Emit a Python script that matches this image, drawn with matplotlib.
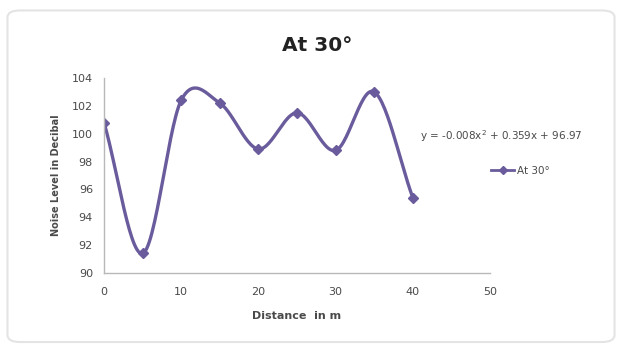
import numpy as np
import matplotlib
matplotlib.use("Agg")
import matplotlib.pyplot as plt
from matplotlib.patches import FancyBboxPatch
from matplotlib.lines import Line2D

# data
distance = [0, 5, 10, 15, 20, 25, 30, 35, 40]
noise_db = [100.8, 91.4, 102.4, 102.2, 98.9, 101.5, 98.8, 103.0, 95.4]
x_ticks = [0, 10, 20, 30, 40, 50]
y_ticks = [90, 92, 94, 96, 98, 100, 102, 104]
series_name = "At 30°"
trend_text = "y = -0.008x$^2$ + 0.359x + 96.97"

LINE = "#6a5c9c"
TEXT = "#4a4a4a"


def smooth_curve(xs, ys, steps=30):
    # Catmull-Rom through the points, similar to Excel's smoothed line
    xs = np.asarray(xs, float)
    ys = np.asarray(ys, float)
    px = np.concatenate([[2 * xs[0] - xs[1]], xs, [2 * xs[-1] - xs[-2]]])
    py = np.concatenate([[2 * ys[0] - ys[1]], ys, [2 * ys[-1] - ys[-2]]])
    out_x, out_y = [], []
    t = np.linspace(0, 1, steps)
    for i in range(1, len(px) - 2):
        for p, out in ((px, out_x), (py, out_y)):
            p0, p1, p2, p3 = p[i - 1], p[i], p[i + 1], p[i + 2]
            out.extend(0.5 * ((2 * p1) + (-p0 + p2) * t
                              + (2 * p0 - 5 * p1 + 4 * p2 - p3) * t ** 2
                              + (-p0 + 3 * p1 - 3 * p2 + p3) * t ** 3))
    return np.array(out_x), np.array(out_y)


fig = plt.figure(figsize=(6.22, 3.49), dpi=100)
fig.patch.set_facecolor("white")

# faint rounded chart border
fig.patches.append(FancyBboxPatch((0.012, 0.02), 0.976, 0.95,
                                  boxstyle="round,pad=0,rounding_size=0.02",
                                  transform=fig.transFigure, fill=False,
                                  edgecolor="#e4e4e4", lw=1.5))

ax = fig.add_axes([0.1672, 0.2178, 0.6206, 0.5587])

sx, sy = smooth_curve(distance, noise_db)
ax.plot(sx, sy, color=LINE, lw=2.4, solid_capstyle="round")
ax.plot(distance, noise_db, linestyle="none", marker="D", ms=5,
        color=LINE, markeredgecolor=LINE)

ax.set_xlim(0, 50)
ax.set_ylim(90, 104)
ax.set_xticks(x_ticks)
ax.set_yticks(y_ticks)
ax.tick_params(length=0, labelsize=8, colors=TEXT, pad=10)
ax.tick_params(axis="y", pad=8)
for side in ("top", "right"):
    ax.spines[side].set_visible(False)
for side in ("left", "bottom"):
    ax.spines[side].set_color("#b8b8b8")
    ax.spines[side].set_linewidth(1.0)

ax.set_xlabel("Distance  in m", fontsize=8, fontweight="bold", color=TEXT, labelpad=10)
ax.set_ylabel("Noise Level in Decibal", fontsize=7, fontweight="bold", color=TEXT, labelpad=8)

fig.text(0.51, 0.87, series_name, ha="center", va="center", fontsize=14.5,
         fontweight="bold", color="#222222")

fig.text(0.676, 0.61, trend_text, fontsize=7.5, color=TEXT, va="center")

handle = Line2D([], [], color=LINE, lw=2, marker="D", ms=4)
fig.legend([handle], [series_name], loc="center left", bbox_to_anchor=(0.775, 0.51),
           frameon=False, fontsize=7.5, handlelength=2.2, handletextpad=0.3,
           labelcolor=TEXT)

fig.savefig("out.png", dpi=100)
